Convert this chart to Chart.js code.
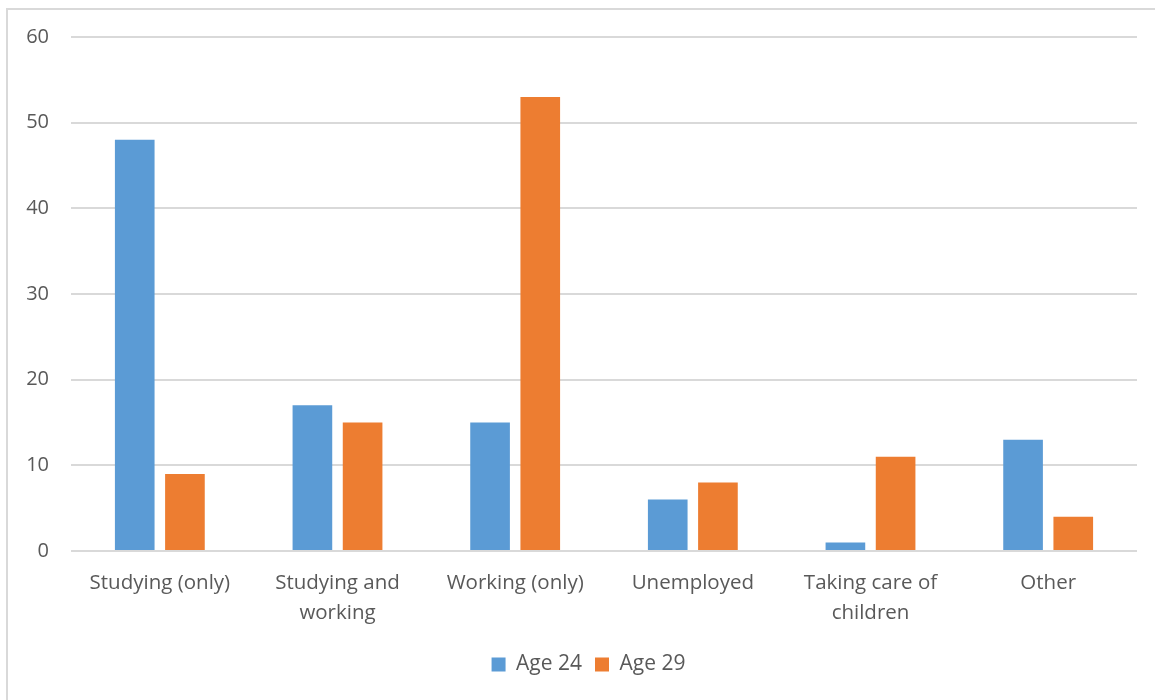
<!DOCTYPE html>
<html>
<head>
<meta charset="utf-8">
<script src="https://cdn.jsdelivr.net/npm/chart.js@4.4.0/dist/chart.umd.min.js"></script>
<style>
  html, body { margin: 0; padding: 0; background: #ffffff; overflow: hidden; }
  #wrap { position: relative; width: 1155px; height: 700px; overflow: hidden; }
  #frame { position: absolute; left: 6px; top: 8px; width: 1160px; height: 710px; border-left: 2px solid #d9d9d9; border-top: 2px solid #d9d9d9; pointer-events: none; }
  canvas { position: absolute; left: 0; top: 0; }
</style>
</head>
<body>
<div id="wrap">
  <canvas id="c" width="1155" height="700"></canvas>
  <div id="frame"></div>
</div>
<script>
const categories = [
  "Studying (only)",
  ["Studying and", "working"],
  "Working (only)",
  "Unemployed",
  ["Taking care of", "children"],
  "Other"
];
const age24 = [48, 17, 15, 6, 1, 13];
const age29 = [9, 15, 53, 8, 11, 4];
const yTicks = { min: 0, max: 60, step: 10 };

const FONT = "'Open Sans', 'Liberation Sans', sans-serif";
const TXT = "#595959";

const legendShift = {
  id: 'legendShift',
  afterLayout(chart) {
    const l = chart.legend;
    if (l) { l.left += 20; l.right += 20; }
  }
};

new Chart(document.getElementById('c'), {
  type: 'bar',
  data: {
    labels: categories,
    datasets: [
      { label: 'Age 24', data: age24, backgroundColor: '#5B9BD5', borderWidth: 0 },
      { label: 'Age 29', data: age29, backgroundColor: '#ED7D31', borderWidth: 0 }
    ]
  },
  plugins: [legendShift],
  options: {
    responsive: false,
    animation: false,
    devicePixelRatio: 1,
    categoryPercentage: 0.565,
    barPercentage: 0.79,
    layout: { padding: { top: 37, right: 18, bottom: 15, left: 0 } },
    plugins: {
      legend: {
        position: 'bottom',
        labels: {
          font: { family: FONT, size: 21 },
          color: TXT,
          boxWidth: 14,
          boxHeight: 14,
          padding: 13
        }
      },
      tooltip: { enabled: false }
    },
    scales: {
      x: {
        grid: { display: false },
        border: { display: false },
        ticks: { font: { family: FONT, size: 20.5, lineHeight: 1.42 }, color: TXT, padding: 10, maxRotation: 0, autoSkip: false },
        afterFit: (s) => { s.height = 90; }
      },
      y: {
        min: yTicks.min, max: yTicks.max,
        grid: { color: '#d9d9d9', lineWidth: 2, drawTicks: false },
        border: { display: false },
        ticks: { stepSize: yTicks.step, font: { family: FONT, size: 20 }, color: TXT, padding: 22 },
        afterFit: (s) => { s.width = 71; }
      }
    }
  }
});
</script>
</body>
</html>
